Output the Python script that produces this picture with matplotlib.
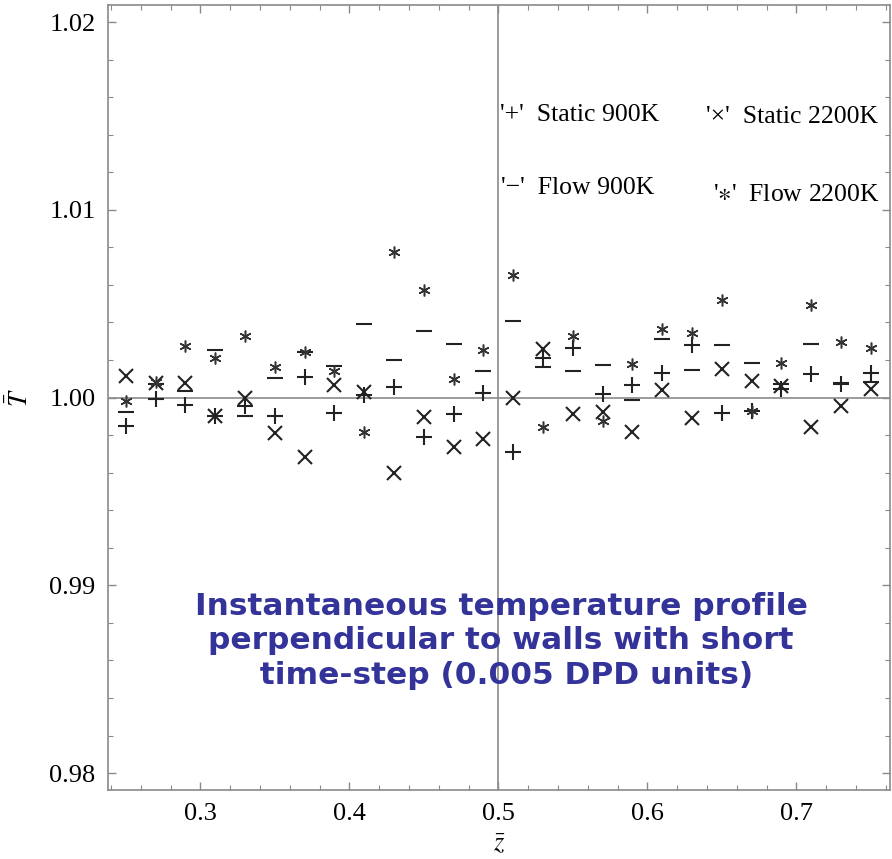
import matplotlib.pyplot as plt
from matplotlib.ticker import MultipleLocator

# positions along the channel
z = [0.25, 0.27, 0.29, 0.31, 0.33, 0.35, 0.37, 0.39, 0.41, 0.43, 0.45, 0.47, 0.49,
     0.51, 0.53, 0.55, 0.57, 0.59, 0.61, 0.63, 0.65, 0.67, 0.69, 0.71, 0.73, 0.75]

# '+' Static 900K
static_900 = [0.99851, 0.99990, 0.99960, 0.99900, 0.99954, 0.99900, 1.00108, 0.99918, 1.00012,
              1.00057, 0.99789, 0.99910, 1.00025, 0.99711, 1.00211, 1.00264, 1.00021, 1.00066,
              1.00131, 1.00282, 0.99918, 0.99930, 1.00048, 1.00128, 1.00074, 1.00131]
# 'x' Static 2200K
static_2200 = [1.00113, 1.00080, 1.00080, 0.99900, 1.00000, 0.99809, 0.99685, 1.00066, 1.00030,
               0.99600, 0.99897, 0.99738, 0.99777, 1.00000, 1.00259, 0.99915, 0.99924, 0.99817,
               1.00039, 0.99892, 1.00154, 1.00087, 1.00060, 0.99844, 0.99954, 1.00046]
# '-' Flow 900K
flow_900 = [0.99922, 1.00070, 1.00034, 1.00252, 0.99900, 1.00105, 1.00243, 1.00167, 1.00392,
            1.00199, 1.00353, 1.00285, 1.00144, 1.00406, 1.00163, 1.00140, 1.00172, 0.99989,
            1.00314, 1.00149, 1.00278, 1.00184, 1.00070, 1.00285, 1.00080, 1.00081]
# '*' Flow 2200K
flow_2200 = [0.99980, 1.00082, 1.00277, 1.00211, 1.00330, 1.00163, 1.00241, 1.00140, 0.99817,
             1.00773, 1.00574, 1.00101, 1.00252, 1.00654, 0.99844, 1.00326, 0.99874, 1.00179,
             1.00367, 1.00344, 1.00521, 0.99930, 1.00184, 1.00495, 1.00296, 1.00266]

plt.rcParams['font.family'] = ['Liberation Serif', 'DejaVu Sans']
plt.rcParams['mathtext.fontset'] = 'stix'

fig = plt.figure(figsize=(8.92, 8.59), dpi=100)
ax = fig.add_axes([0.121, 0.0803, 0.877, 0.9137])

# axes through the origin (Mathematica style)
ax.axvline(0.5, color='#8a8a8a', lw=1.2, zorder=1)
ax.axhline(1.0, color='#8a8a8a', lw=1.2, zorder=1)

c = '#222222'
ax.plot(z, static_900, linestyle='none', marker='+', ms=11, mew=1.5, color=c)
ax.plot(z, static_2200, linestyle='none', marker='x', ms=10, mew=1.5, color=c)
ax.plot(z, flow_900, linestyle='none', marker='_', ms=11, mew=1.5, color=c)
ax.plot(z, flow_2200, linestyle='none', marker=(6, 2, 0), ms=8.5, mew=1.1, color='#333333')

ax.set_xlim(0.238, 0.763)
ax.set_ylim(0.9791, 1.0209)

ax.xaxis.set_major_locator(MultipleLocator(0.1))
ax.xaxis.set_minor_locator(MultipleLocator(0.02))
ax.yaxis.set_major_locator(MultipleLocator(0.01))
ax.yaxis.set_minor_locator(MultipleLocator(0.002))
ax.set_xticklabels([f'{t:.1f}' for t in ax.get_xticks()])
ax.set_yticks([0.98, 0.99, 1.00, 1.01, 1.02])
ax.set_yticklabels(['0.98', '0.99', '1.00', '1.01', '1.02'])

ax.tick_params(which='both', direction='in', top=True, right=True, color='#8a8a8a', labelsize=19)
ax.tick_params(which='major', length=6, width=1)
ax.tick_params(axis='x', which='major', pad=9)
ax.tick_params(axis='y', which='major', pad=9)
ax.tick_params(which='minor', length=3.5, width=0.8)
for s in ax.spines.values():
    s.set_color('#8a8a8a')
    s.set_linewidth(1.2)

ax.set_xlabel(r'$\bar{z}$', fontsize=19, labelpad=6)
ax.set_ylabel(r'$\bar{T}$', fontsize=19, labelpad=12)

# series labels
fs = 18.5
ax.text(0.501, 0.860, "'+'  Static 900K", transform=ax.transAxes, fontsize=fs, va='center')
ax.text(0.764, 0.857, "'\u00d7'  Static 2200K", transform=ax.transAxes, fontsize=fs, va='center')
ax.text(0.503, 0.767, "'\u2212'  Flow 900K", transform=ax.transAxes, fontsize=fs, va='center')
ax.text(0.773, 0.758, r"'$\ast$'  Flow 2200K", transform=ax.transAxes, fontsize=fs, va='center')

ax.text(0.5026, 0.19, 'Instantaneous temperature profile\nperpendicular to walls with short\n time-step (0.005 DPD units)',
        transform=ax.transAxes, ha='center', va='center', fontsize=22.5, fontweight='bold',
        color='#333399', family='DejaVu Sans', linespacing=1.25)

fig.savefig('out.png', dpi=100)
